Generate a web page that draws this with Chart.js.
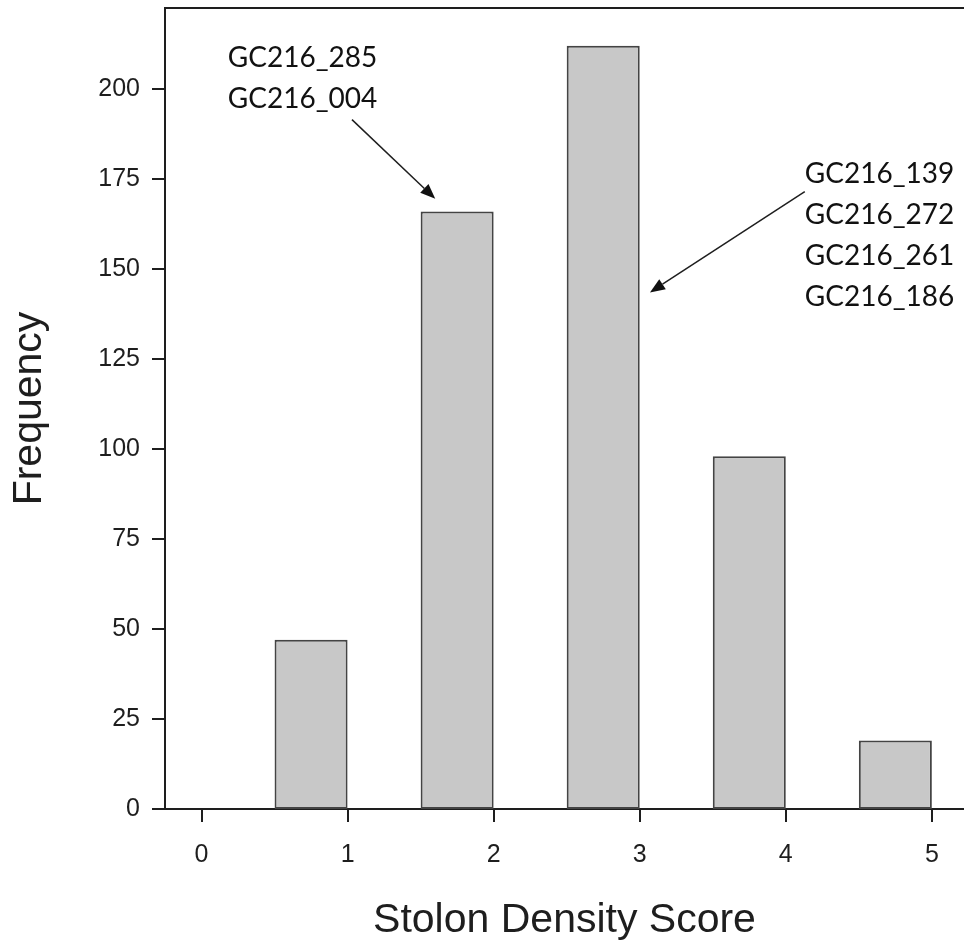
<!DOCTYPE html>
<html>
<head>
<meta charset="utf-8">
<script src="https://cdn.jsdelivr.net/npm/chart.js@4/dist/chart.umd.min.js"></script>
<style>
  html, body { margin: 0; padding: 0; background: #fff; }
  #wrap { width: 964px; height: 945px; position: relative; }
</style>
</head>
<body>
<div id="wrap"><canvas id="hist"></canvas></div>
<script>
// histogram bins: each bar covers [score - 0.5, score]
var binCenters = [0.75, 1.75, 2.75, 3.75, 4.75];
var frequency = [47, 166, 212, 98, 19];
var xTicks = [0, 1, 2, 3, 4, 5];
var yTicks = [0, 25, 50, 75, 100, 125, 150, 175, 200];

// genotype labels pointing at bins
var leftNotes = ['GC216_285', 'GC216_004'];
var rightNotes = ['GC216_139', 'GC216_272', 'GC216_261', 'GC216_186'];

var ink = '#1e1e1e';
var TICK_LEN = 13;

// frame line, outward tick marks, text + arrow annotations (data units)
var notesPlugin = {
  id: 'notes',
  afterDraw: function (chart, args, opts) {
    var ctx = chart.ctx, xs = chart.scales.x, ys = chart.scales.y;
    var area = chart.chartArea;
    ctx.save();

    ctx.strokeStyle = ink;
    ctx.lineWidth = 2;
    ctx.beginPath();
    ctx.moveTo(area.left - 1, area.top);
    ctx.lineTo(area.right, area.top);
    xs.ticks.forEach(function (t) {
      var px = Math.round(xs.getPixelForValue(t.value));
      ctx.moveTo(px, area.bottom);
      ctx.lineTo(px, area.bottom + TICK_LEN);
    });
    ys.ticks.forEach(function (t) {
      var py = Math.round(ys.getPixelForValue(t.value));
      ctx.moveTo(area.left, py);
      ctx.lineTo(area.left - TICK_LEN, py);
    });
    ctx.stroke();

    ctx.font = opts.font;
    ctx.fillStyle = '#111';
    ctx.textBaseline = 'middle';
    ctx.textAlign = 'left';
    opts.blocks.forEach(function (b) {
      var x = xs.getPixelForValue(b.x);
      var y0 = ys.getPixelForValue(b.y);
      b.lines.forEach(function (t, i) {
        ctx.fillText(t, x, y0 + i * opts.lineGap);
      });
    });

    ctx.lineWidth = 1.5;
    opts.arrows.forEach(function (a) {
      var x1 = xs.getPixelForValue(a.from[0]), y1 = ys.getPixelForValue(a.from[1]);
      var x2 = xs.getPixelForValue(a.to[0]), y2 = ys.getPixelForValue(a.to[1]);
      var ang = Math.atan2(y2 - y1, x2 - x1);
      var hl = 15, hw = 6;
      var bx = x2 - hl * Math.cos(ang), by = y2 - hl * Math.sin(ang);
      ctx.beginPath();
      ctx.moveTo(x1, y1);
      ctx.lineTo(bx, by);
      ctx.stroke();
      ctx.beginPath();
      ctx.moveTo(x2, y2);
      ctx.lineTo(bx + hw * Math.sin(ang), by - hw * Math.cos(ang));
      ctx.lineTo(bx - hw * Math.sin(ang), by + hw * Math.cos(ang));
      ctx.closePath();
      ctx.fillStyle = '#111';
      ctx.fill();
    });
    ctx.restore();
  }
};

var tickFont = { family: 'Liberation Sans, Arial, sans-serif', size: 25 };
var titleFont = { family: 'Liberation Sans, Arial, sans-serif', size: 41 };

function useTicks(list) {
  return function (s) {
    s.ticks = list.map(function (v) { return { value: v }; });
  };
}

new Chart(document.getElementById('hist'), {
  type: 'bar',
  data: {
    datasets: [{
      data: binCenters.map(function (c, i) { return { x: c, y: frequency[i] }; }),
      backgroundColor: '#c8c8c8',
      borderColor: '#444',
      borderWidth: 2,
      borderSkipped: false,
      categoryPercentage: 0.5,
      barPercentage: 1
    }]
  },
  options: {
    responsive: true,
    maintainAspectRatio: false,
    animation: false,
    layout: { padding: { top: 8, right: 0, left: 0, bottom: 0 } },
    plugins: {
      legend: { display: false },
      tooltip: { enabled: false },
      notes: {
        font: '28px Lato',
        lineGap: 41,
        blocks: [
          { x: 0.18, y: 208.5, lines: leftNotes },
          { x: 4.13, y: 176.5, lines: rightNotes }
        ],
        arrows: [
          { from: [1.03, 191.5], to: [1.60, 169.5] },
          { from: [4.13, 171.5], to: [3.07, 143.5] }
        ]
      }
    },
    scales: {
      x: {
        type: 'linear',
        min: -0.25,
        max: 5.22,
        bounds: 'data',
        offset: false,
        grid: { display: false, offset: false },
        border: { display: true, width: 2, color: ink },
        ticks: { autoSkip: false, maxRotation: 0, padding: TICK_LEN + 10, color: ink, font: tickFont },
        title: { display: true, text: 'Stolon Density Score', color: ink, font: titleFont, padding: { top: 0, bottom: 0 } },
        afterBuildTicks: useTicks(xTicks),
        afterFit: function (s) {
          s.height = 136;
          s.paddingLeft = 0;
          s.paddingRight = 0;
        }
      },
      y: {
        min: 0,
        max: 222.5,
        bounds: 'data',
        grid: { display: false },
        border: { display: true, width: 2, color: ink },
        ticks: { autoSkip: false, padding: TICK_LEN + 4, color: ink, font: tickFont },
        title: { display: true, text: 'Frequency', color: ink, font: titleFont, padding: { top: 5, bottom: 0 } },
        afterBuildTicks: useTicks(yTicks),
        afterFit: function (s) {
          s.width = 165;
          s.paddingTop = 0;
          s.paddingBottom = 0;
        }
      }
    }
  },
  plugins: [notesPlugin]
});
</script>
</body>
</html>
